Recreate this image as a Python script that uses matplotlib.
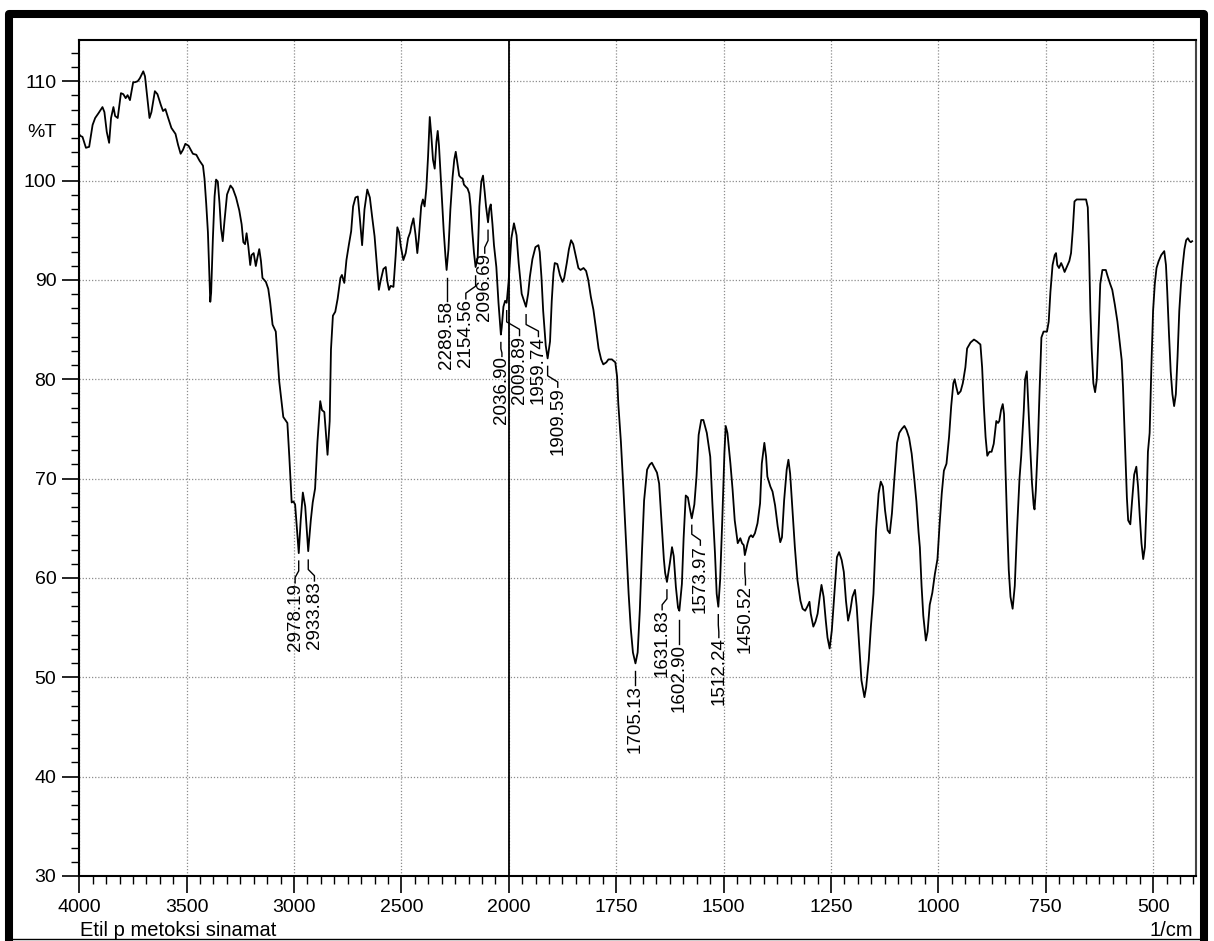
import matplotlib
matplotlib.use('Agg')

import matplotlib.pyplot as plt
import numpy as np
from matplotlib.lines import Line2D
from matplotlib.ticker import FixedLocator, MultipleLocator, NullFormatter

plt.rcParams['font.family'] = ['Liberation Sans', 'DejaVu Sans']

# IR spectrum, wavenumber (1/cm) and %T
wavenumber = [
    3998, 3995, 3985, 3969, 3954, 3938, 3926, 3910, 3892, 3883, 3872, 3861, 3852, 3841, 3833,
    3821, 3806, 3795, 3784, 3775, 3764, 3749, 3741, 3728, 3718, 3702, 3694, 3684, 3673, 3664,
    3648, 3636, 3620, 3610, 3599, 3586, 3571, 3552, 3540, 3528, 3517, 3506, 3491, 3471, 3455,
    3440, 3424, 3417, 3409, 3401, 3394, 3390, 3386, 3378, 3370, 3363, 3355, 3347, 3340, 3332,
    3324, 3312, 3296, 3285, 3270, 3255, 3244, 3236, 3228, 3221, 3213, 3204, 3198, 3188, 3178,
    3170, 3162, 3154, 3147, 3131, 3120, 3111, 3100, 3085, 3077, 3069, 3050, 3031, 3022, 3011,
    3003, 2995, 2978, 2969, 2959, 2948, 2934, 2922, 2913, 2902, 2891, 2878, 2870, 2859, 2852,
    2844, 2834, 2828, 2819, 2808, 2797, 2784, 2777, 2766, 2756, 2745, 2734, 2725, 2714, 2703,
    2694, 2683, 2672, 2659, 2647, 2636, 2625, 2616, 2605, 2597, 2584, 2573, 2566, 2558, 2550,
    2537, 2527, 2519, 2511, 2503, 2491, 2480, 2469, 2459, 2454, 2444, 2434, 2426, 2419, 2408,
    2400, 2392, 2384, 2376, 2368, 2361, 2353, 2345, 2337, 2331, 2325, 2314, 2303, 2295, 2289.6,
    2281, 2272, 2262, 2254, 2247, 2239, 2231, 2223, 2215, 2209, 2201, 2192, 2184, 2178, 2170,
    2162, 2154.6, 2145, 2137, 2128, 2120, 2112, 2106, 2096.7, 2090, 2084, 2076, 2069, 2058, 2048,
    2036.9, 2033, 2025, 2017, 2009.9, 2001, 1994, 1988, 1982, 1977, 1970, 1960, 1955, 1951, 1945,
    1938, 1931, 1928, 1924, 1920, 1914, 1909.6, 1904, 1900, 1896, 1893, 1887, 1881, 1875, 1871,
    1865, 1860, 1855, 1850, 1844, 1838, 1833, 1826, 1820, 1815, 1809, 1803, 1797, 1791, 1785,
    1780, 1773, 1768, 1760, 1752, 1748, 1745, 1739, 1733, 1727, 1721, 1716, 1711, 1705.1, 1700,
    1695, 1690, 1685, 1678, 1672, 1667, 1661, 1655, 1650, 1645, 1639, 1636, 1631.8, 1625, 1620,
    1616, 1611, 1606, 1602.9, 1597, 1593, 1588, 1583, 1579, 1574, 1568, 1563, 1558, 1552, 1547,
    1539, 1531, 1526, 1520, 1516, 1512.2, 1508, 1503, 1498, 1495, 1491, 1484, 1479, 1474, 1467,
    1461, 1457, 1453, 1450.5, 1444, 1440, 1436, 1432, 1427, 1421, 1415, 1411, 1405, 1401, 1398,
    1391, 1386, 1380, 1374, 1368, 1364, 1359, 1353, 1349, 1345, 1339, 1334, 1328, 1321, 1316,
    1310, 1304, 1300, 1297, 1291, 1286, 1281, 1276, 1272, 1267, 1262, 1258, 1253, 1248, 1242,
    1236, 1231, 1225, 1220, 1215, 1210, 1205, 1200, 1194, 1190, 1184, 1179, 1172, 1168, 1162,
    1157, 1151, 1145, 1139, 1134, 1129, 1124, 1118, 1113, 1108, 1102, 1096, 1091, 1085, 1079,
    1074, 1068, 1062, 1056, 1051, 1046, 1043, 1039, 1035, 1029, 1025, 1020, 1014, 1008, 1002,
    997, 992, 987, 981, 975, 970, 965, 962, 958, 954, 948, 943, 937, 933, 925,
    917, 910, 902, 898, 894, 890, 886, 881, 876, 871, 865, 861, 858, 854, 850,
    847, 844, 840, 836, 832, 827, 822, 817, 811, 807, 801, 798, 794, 790, 786,
    782, 778, 776, 773, 768, 764, 760, 755, 747, 743, 739, 734, 729, 726, 723,
    719, 714, 710, 706, 701, 695, 691, 687, 683, 678, 666, 656, 652, 649, 646,
    643, 639, 635, 631, 627, 623, 618, 610, 606, 600, 595, 589, 583, 577, 573,
    570, 567, 564, 561, 558, 553, 549, 544, 539, 535, 531, 527, 523, 519, 515,
    512, 508, 504, 500, 496, 492, 487, 481, 474, 470, 467, 463, 459, 455, 451,
    447, 443, 439, 435, 431, 427, 423, 419, 415, 412, 409,
]
transmittance = [
    104.6, 104.5, 104.4, 103.3, 103.4, 105.6, 106.3, 106.8, 107.4, 106.9, 104.9, 103.8, 106.3, 107.4, 106.5,
    106.3, 108.8, 108.7, 108.3, 108.6, 108.1, 109.9, 109.9, 110.0, 110.3, 111.0, 110.5, 108.5, 106.3, 106.9,
    109.0, 108.7, 107.6, 107.0, 107.2, 106.3, 105.3, 104.7, 103.6, 102.7, 103.1, 103.7, 103.5, 102.7, 102.6,
    102.0, 101.5, 100.2, 97.7, 94.8, 90.5, 87.8, 88.7, 94.1, 98.4, 100.1, 99.9, 97.7, 95.2, 93.9,
    95.9, 98.6, 99.5, 99.2, 98.3, 97.0, 95.6, 93.8, 93.6, 94.7, 93.4, 91.5, 92.5, 92.7, 91.4,
    92.3, 93.1, 91.9, 90.2, 89.8, 89.1, 87.7, 85.5, 84.8, 82.3, 79.8, 76.2, 75.6, 72.2, 67.6,
    67.7, 67.4, 62.5, 65.8, 68.6, 67.2, 62.7, 65.8, 67.6, 69.0, 73.7, 77.8, 76.9, 76.7, 74.7,
    72.4, 75.8, 83.0, 86.4, 86.8, 88.1, 90.2, 90.5, 89.7, 92.0, 93.5, 94.9, 97.4, 98.3, 98.4,
    96.3, 93.5, 97.1, 99.1, 98.3, 96.3, 94.4, 92.0, 89.0, 89.9, 91.1, 91.3, 89.9, 89.0, 89.4,
    89.3, 92.4, 95.3, 94.8, 93.4, 92.0, 92.7, 94.2, 94.8, 95.4, 96.2, 94.5, 92.7, 94.2, 97.4,
    98.1, 97.4, 99.2, 102.4, 106.4, 104.6, 102.1, 101.2, 103.9, 105.0, 103.5, 99.2, 94.9, 92.4, 91.0,
    93.1, 97.1, 100.3, 102.1, 102.9, 101.7, 100.5, 100.3, 100.2, 99.6, 99.4, 99.2, 98.7, 97.4, 94.9,
    92.7, 91.3, 92.2, 97.4, 99.9, 100.5, 98.8, 97.4, 95.8, 97.2, 97.6, 95.6, 93.5, 91.3, 87.7,
    84.5, 85.2, 87.3, 87.9, 87.7, 89.8, 94.2, 95.7, 94.5, 91.7, 88.6, 87.3, 88.6, 90.3, 92.1,
    93.3, 93.5, 92.8, 90.3, 86.9, 83.4, 82.1, 83.8, 87.9, 90.7, 91.7, 91.6, 90.5, 89.8, 90.2,
    91.7, 93.1, 94.0, 93.6, 92.4, 91.2, 91.0, 91.2, 90.9, 90.0, 88.3, 87.0, 85.1, 83.1, 82.0,
    81.5, 81.7, 82.0, 82.0, 81.7, 80.3, 77.5, 73.7, 68.8, 63.6, 58.4, 54.9, 52.5, 51.4, 52.5,
    56.7, 62.6, 67.8, 70.9, 71.4, 71.6, 71.1, 70.6, 69.5, 66.0, 61.9, 60.5, 59.6, 61.5, 63.1,
    62.2, 59.1, 57.0, 56.7, 59.4, 64.0, 68.3, 68.1, 67.1, 66.0, 67.4, 70.2, 74.4, 75.9, 75.9,
    74.6, 72.2, 67.5, 62.5, 58.4, 57.1, 59.8, 65.8, 72.6, 75.3, 74.6, 71.5, 68.9, 65.8, 63.5,
    64.0, 63.5, 63.3, 62.3, 63.5, 64.1, 64.3, 64.1, 64.5, 65.5, 67.5, 71.5, 73.6, 72.2, 70.2,
    69.2, 68.7, 67.3, 65.2, 63.6, 64.1, 67.8, 70.9, 71.9, 70.5, 66.5, 63.1, 59.8, 57.7, 56.9,
    56.7, 57.2, 57.6, 56.4, 55.1, 55.6, 56.4, 58.1, 59.3, 58.1, 55.7, 54.0, 52.9, 54.7, 58.4,
    62.1, 62.6, 61.8, 60.6, 57.7, 55.7, 56.7, 58.1, 58.8, 57.1, 53.0, 49.7, 48.0, 49.0, 51.7,
    55.1, 58.4, 64.8, 68.5, 69.7, 69.2, 66.8, 64.8, 64.5, 66.5, 70.2, 73.6, 74.6, 75.0, 75.3,
    74.9, 74.1, 72.5, 70.0, 67.7, 64.6, 63.1, 59.2, 56.2, 53.7, 54.6, 57.3, 58.5, 60.4, 61.9,
    65.4, 68.5, 70.8, 71.5, 74.2, 77.3, 79.6, 80.0, 79.2, 78.5, 78.8, 79.6, 81.2, 83.1, 83.7,
    84.0, 83.8, 83.5, 81.2, 77.3, 74.2, 72.3, 72.7, 72.7, 73.5, 75.8, 75.6, 75.8, 76.9, 77.5,
    76.5, 71.5, 65.8, 60.8, 58.1, 56.9, 59.2, 64.6, 70.0, 72.3, 76.9, 80.0, 80.8, 76.9, 73.1,
    69.6, 67.3, 66.9, 68.8, 73.8, 79.2, 84.2, 84.8, 84.8, 85.8, 88.8, 91.5, 92.5, 92.7, 91.5,
    91.2, 91.7, 91.3, 90.8, 91.3, 91.9, 92.7, 95.0, 97.9, 98.1, 98.1, 98.1, 97.3, 92.7, 86.9,
    83.1, 79.6, 78.7, 80.0, 84.6, 89.6, 91.0, 91.0, 90.4, 89.6, 89.0, 87.5, 85.8, 83.5, 81.9,
    79.2, 75.4, 71.5, 68.1, 65.8, 65.4, 67.7, 70.4, 71.2, 69.2, 66.2, 63.5, 61.9, 63.1, 67.7,
    72.7, 74.6, 81.2, 86.9, 89.6, 91.2, 91.9, 92.5, 92.9, 91.5, 88.8, 84.6, 80.8, 78.5, 77.3,
    78.5, 82.3, 86.9, 89.6, 91.5, 93.1, 94.0, 94.2, 93.9, 93.8, 93.9,
]

# peak labels: text, peak position, label position
peak_labels = ['2978.19', '2933.83', '2289.58', '2154.56', '2096.69', '2036.90', '2009.89',
               '1959.74', '1909.59', '1705.13', '1631.83', '1602.90', '1573.97', '1512.24',
               '1450.52']
peak_pos = [2978.19, 2933.83, 2289.58, 2154.56, 2096.69, 2036.90, 2009.89,
            1959.74, 1909.59, 1705.13, 1631.83, 1602.90, 1573.97, 1512.24, 1450.52]
label_pos = [2995, 2905, 2289.58, 2200, 2112, 2032, 1975,
             1931, 1886, 1705.13, 1643, 1602.90, 1554, 1511, 1449]
# where the leader starts (%T) and how far down it goes before the text
leader_top = [61.7, 61.8, 90.2, 90.4, 95.0, 83.7, 86.9, 86.5, 81.3, 50.6, 58.8, 55.8, 65.3, 56.3, 61.5]
leader_len = [2.2, 2.1, 2.3, 2.3, 2.3, 1.4, 2.5, 2.2, 2.1, 1.4, 2.0, 2.4, 2.0, 2.3, 2.2]

major_wn = [4000, 3500, 3000, 2500, 2000, 1750, 1500, 1250, 1000, 750, 500]
major_pt = [30, 40, 50, 60, 70, 80, 90, 100, 110]


def vorwaerts(w):
    w = np.asarray(w, dtype=float)
    return np.where(w > 2000, 2000 + (w - 2000) / 2, w)


def rueckwaerts(t):
    t = np.asarray(t, dtype=float)
    return np.where(t > 2000, 2000 + (t - 2000) * 2, t)


fig = plt.figure(figsize=(12.14, 9.41), dpi=100)
ax = fig.add_axes([0.0653, 0.0691, 0.9199, 0.8889])

ax.set_xscale('function', functions=(vorwaerts, rueckwaerts))
ax.set_xlim(4000, 400)
ax.set_ylim(30, 114.2)

ax.plot(wavenumber, transmittance, color='black', lw=1.3, zorder=3)
ax.axvline(2000, color='black', lw=1.3, zorder=2)

# leaders + labels
for txt, pw, lw_, top, ln in zip(peak_labels, peak_pos, label_pos, leader_top, leader_len):
    if abs(pw - lw_) < 1:
        xs = [pw, pw]
        ys = [top, top - ln]
    else:
        y1 = top - 0.45 * ln
        y2 = y1 - 0.3 * ln
        xs = [pw, pw, lw_, lw_]
        ys = [top, y1, y2, top - ln]
    ax.plot(xs, ys, color='black', lw=1.0, zorder=3)
    ax.text(lw_, top - ln, txt, rotation=90, ha='center', va='top', fontsize=13.5, zorder=4)

# ticks
minor_wn = np.concatenate([np.arange(4000, 2000, -62.5), np.arange(2000, 399, -31.25)])
ax.xaxis.set_major_locator(FixedLocator(major_wn))
ax.xaxis.set_minor_locator(FixedLocator(minor_wn))
ax.xaxis.set_minor_formatter(NullFormatter())
ax.set_xticklabels([str(v) for v in major_wn])
ax.set_yticks(major_pt + [105])
ax.set_yticklabels([str(v) for v in major_pt] + ['%T'])
ax.yaxis.set_minor_locator(MultipleLocator(10 / 7))
ax.tick_params(which='major', direction='out', length=12, width=1.2, labelsize=14, pad=4.5)
ax.tick_params(which='minor', direction='out', length=6, width=1.0)
ax.tick_params(top=False, right=False)
# the %T tick has no mark
ax.yaxis.get_major_ticks()[-1].tick1line.set_visible(False)

ax.grid(True, which='major', linestyle=(0, (1, 1.5)), color='#8c8c8c', lw=0.9, zorder=1)
ax.yaxis.get_major_ticks()[-1].gridline.set_visible(False)
for s in ax.spines.values():
    s.set_linewidth(1.5)
ax.spines['right'].set_color('#444444')

fig.text(80 / 1214, 1 - 936 / 941, 'Etil p metoksi sinamat', fontsize=14.5, ha='left', va='baseline')
fig.text(1193 / 1214, 1 - 936 / 941, '1/cm', fontsize=14.5, ha='right', va='baseline')

# frame around the whole sheet
W, H = 1214.0, 941.0
rahmen = Line2D([9 / W, 9 / W, 1204 / W, 1204 / W],
                [0, 1 - 13.5 / H, 1 - 13.5 / H, 0],
                transform=fig.transFigure, color='black', lw=5.8,
                solid_joinstyle='round', solid_capstyle='butt')
fig.add_artist(rahmen)
fig.add_artist(Line2D([9 / W, 1204 / W], [1 - 939 / H, 1 - 939 / H],
                      transform=fig.transFigure, color='black', lw=1.0))

fig.savefig('out.png', dpi=100)
